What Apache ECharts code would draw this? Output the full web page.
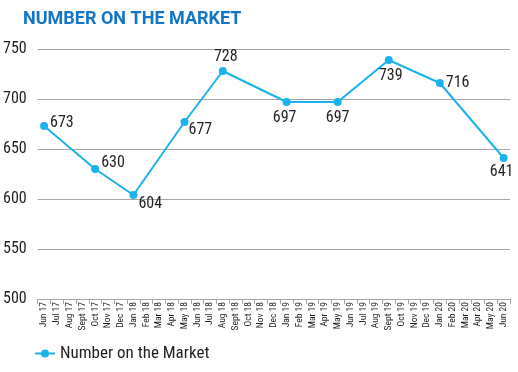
<!DOCTYPE html>
<html><head><meta charset="utf-8">
<script src="https://cdn.jsdelivr.net/npm/echarts@6/dist/echarts.min.js"></script>
<style>html,body{margin:0;padding:0;background:#fff}#c{width:518px;height:372px}</style>
</head><body><div id="c"></div>
<script>
const title = 'NUMBER ON THE MARKET';
const seriesName = 'Number on the Market';
const months = ['Jun 17','Jul 17','Aug 17','Sept 17','Oct 17','Nov 17','Dec 17','Jan 18','Feb 18','Mar 18','Apr 18','May 18','Jun 18','Jul 18','Aug 18','Sept 18','Oct 18','Nov 18','Dec 18','Jan 19','Feb 19','Mar 19','Apr 19','May 19','Jun 19','Jul 19','Aug 19','Sept 19','Oct 19','Nov 19','Dec 19','Jan 20','Feb 20','Mar 20','Apr 20','May 20','Jun 20'];
const pointMonths = ['Jun 17','Oct 17','Jan 18','May 18','Aug 18','Jan 19','May 19','Sept 19','Jan 20','Jun 20'];
const pointValues = [673,630,604,677,728,697,697,739,716,641];
const yTicks = [500,550,600,650,700,750];

// label placement per point (style, not data)
const labelPlace = [
  {position:'right', offset:[-2,-3]},
  {position:'right', offset:[-2,-6]},
  {position:'right', offset:[-3,9]},
  {position:'right', offset:[-4,8]},
  {position:'top', offset:[3,2]},
  {position:'bottom', offset:[-2,0]},
  {position:'bottom', offset:[0,0]},
  {position:'bottom', offset:[2,0]},
  {position:'right', offset:[-2,0]},
  {position:'bottom', offset:[-2,-2]}
];

const values = months.map(m => {
  const i = pointMonths.indexOf(m);
  if (i < 0) return null;
  return {value: pointValues[i], label: labelPlace[i]};
});

const NARROW = '"Roboto Condensed", "DejaVu Sans Condensed", sans-serif';
const chart = echarts.init(document.getElementById('c'), null, {renderer:'canvas'});
chart.setOption({
  animation:false,
  title:{text:title, left:18, top:5, textStyle:{color:'#1375c6', fontFamily:'Roboto, sans-serif', fontWeight:'bold', fontSize:18}},
  grid:{left:35, right:8, top:49, bottom:73, containLabel:false},
  legend:{data:[seriesName], left:34, top:345, padding:0, itemWidth:20, itemHeight:10, itemGap:6,
    textStyle:{color:'#231f20', fontFamily:NARROW, fontSize:17}},
  xAxis:{type:'category', data:months, boundaryGap:true,
    axisLine:{lineStyle:{color:'#a6a6a6', width:1}},
    axisTick:{show:true, interval:0, length:5, lineStyle:{color:'#a6a6a6'}},
    axisLabel:{interval:0, rotate:90, margin:3, color:'#231f20', fontFamily:NARROW, fontSize:9.5}},
  yAxis:{type:'value', min:yTicks[0], max:yTicks[yTicks.length-1], interval:50,
    axisLine:{show:false}, axisTick:{show:false},
    axisLabel:{color:'#231f20', fontFamily:NARROW, fontSize:16, margin:11},
    splitLine:{lineStyle:{color:'#a6a6a6', width:1}}},
  series:[{name:seriesName, type:'line', data:values, connectNulls:true,
    symbol:'circle', symbolSize:8, showSymbol:true,
    lineStyle:{color:'#1ab2ea', width:2}, itemStyle:{color:'#1ab2ea'},
    label:{show:true, color:'#231f20', fontFamily:NARROW, fontSize:16, distance:4}}]
});
</script></body></html>
